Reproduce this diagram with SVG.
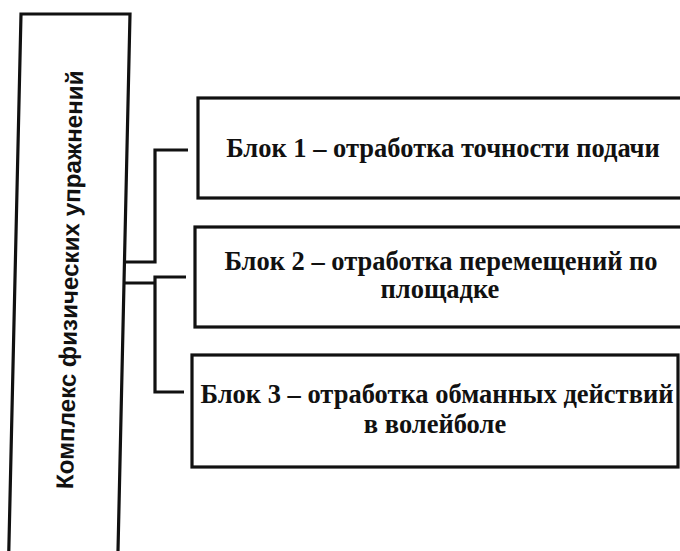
<svg xmlns="http://www.w3.org/2000/svg" width="680" height="551" viewBox="0 0 680 551">
<style>
.box{fill:#fff;stroke:#111;stroke-width:3.2}
.ln{fill:none;stroke:#111;stroke-width:3.2}
.t{font-family:"Liberation Serif","Times New Roman",serif;font-weight:bold;font-size:26.5px;fill:#111;text-anchor:middle}
.v{font-family:"Liberation Sans",Arial,sans-serif;font-weight:bold;font-size:24.2px;fill:#111;text-anchor:middle}
</style>
<rect width="680" height="551" fill="#fff"/>
<g id="connectors">
<path class="ln" d="M124,262 H155 V150 H188"/>
<path class="ln" d="M124,283 H155 M186,277 H155 V392 H184"/>
</g>
<g id="main">
<polygon class="box" points="21,14 130,14 117.8,560 8.6,560"/>
<text class="v" transform="translate(78,280) rotate(-88.6)">Комплекс физических упражнений</text>
</g>
<g id="block1">
<rect class="box" x="198" y="98" width="490" height="100"/>
<text class="t" x="443" y="157">Блок 1 – отработка точности подачи</text>
</g>
<g id="block2">
<rect class="box" x="195" y="227" width="493" height="100"/>
<text class="t" x="441" y="270">Блок 2 – отработка перемещений по</text>
<text class="t" x="440" y="298">площадке</text>
</g>
<g id="block3">
<rect class="box" x="192" y="355" width="486" height="112"/>
<text class="t" x="437" y="403">Блок 3 – отработка обманных действий</text>
<text class="t" x="435" y="433">в волейболе</text>
</g>
</svg>
